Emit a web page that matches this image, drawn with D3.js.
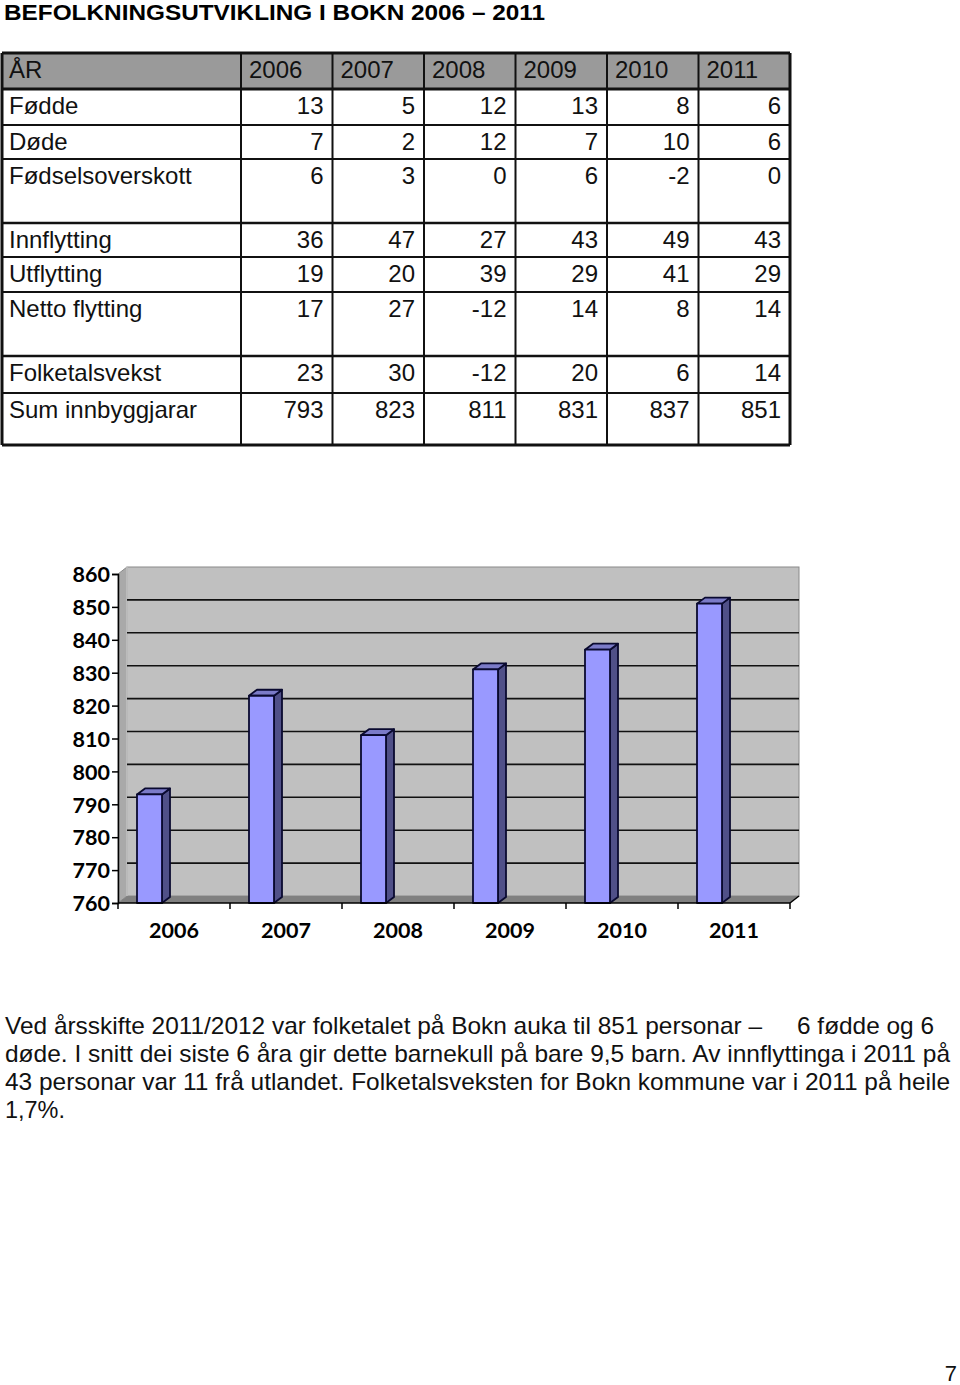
<!DOCTYPE html>
<html><head><meta charset="utf-8">
<script src="https://cdn.jsdelivr.net/npm/d3@7"></script>
<style>html,body{margin:0;padding:0;background:#fff;} svg{display:block;}</style>
</head><body>
<svg id="c" width="960" height="1385"></svg>
<script>
// ---------- data ----------
const years = ["2006","2007","2008","2009","2010","2011"];
const rowLabels = ["Fødde","Døde","Fødselsoverskott","Innflytting","Utflytting","Netto flytting","Folketalsvekst","Sum innbyggjarar"];
const fodde = [13,5,12,13,8,6];
const dode = [7,2,12,7,10,6];
const fodselsoverskott = [6,3,0,6,-2,0];
const innflytting = [36,47,27,43,49,43];
const utflytting = [19,20,39,29,41,29];
const nettoFlytting = [17,27,-12,14,8,14];
const folketalsvekst = [23,30,-12,20,6,14];
const sumInnbyggjarar = [793,823,811,831,837,851];
const yTicks = [760,770,780,790,800,810,820,830,840,850,860];
const titleText = "BEFOLKNINGSUTVIKLING I BOKN 2006 – 2011";
const headerLabel = "ÅR";
const paraLines = [
  "Ved årsskifte 2011/2012 var folketalet på Bokn auka til 851 personar –",
  "6 fødde og 6",
  "døde. I snitt dei siste 6 åra gir dette barnekull på bare 9,5 barn. Av innflyttinga i 2011 på",
  "43 personar var 11 frå utlandet. Folketalsveksten for Bokn kommune var i 2011 på heile",
  "1,7%."
];
const pageNumber = "7";

const tableRows = [fodde,dode,fodselsoverskott,innflytting,utflytting,nettoFlytting,folketalsvekst,sumInnbyggjarar];

// ---------- layout ----------
const svg = d3.select("#c");
svg.append("rect").attr("width",960).attr("height",1385).attr("fill","#fff");
const sans = "'Liberation Sans', Arial, Helvetica, sans-serif";

// title
svg.append("text").attr("x",4).attr("y",20).text(titleText)
  .attr("font-family",sans).attr("font-weight","bold").attr("font-size",22.5)
  .attr("textLength",541).attr("lengthAdjust","spacingAndGlyphs").attr("fill","#000");

// table
const tLeft = 2, tRight = 790, labelColEnd = 241;
const rowEdges = [53, 89, 125, 159, 223, 257, 292, 356, 393, 445];
const colX = d3.scaleBand().domain(years).range([labelColEnd, tRight]);
const tbl = svg.append("g");
tbl.append("rect").attr("x",tLeft).attr("y",rowEdges[0]).attr("width",tRight-tLeft)
  .attr("height",rowEdges[1]-rowEdges[0]).attr("fill","#9a9a9a");
rowEdges.forEach((y,i)=>{
  const thick = (i===0||i===1||i===rowEdges.length-1) ? 3 : (i===7||i===4 ? 2.5 : 2);
  tbl.append("line").attr("x1",tLeft).attr("x2",tRight).attr("y1",y).attr("y2",y)
    .attr("stroke","#111").attr("stroke-width",thick);
});
[tLeft, labelColEnd, ...years.slice(1).map(y=>colX(y)), tRight].forEach((x,i,arr)=>{
  const thick = (i===0||i===arr.length-1) ? 3 : 2;
  tbl.append("line").attr("x1",x).attr("x2",x).attr("y1",rowEdges[0]).attr("y2",rowEdges[rowEdges.length-1])
    .attr("stroke","#111").attr("stroke-width",thick);
});
const fs = 24;
tbl.append("text").attr("x",9).attr("y",rowEdges[0]+25).text(headerLabel)
  .attr("font-family",sans).attr("font-size",fs).attr("fill","#111");
years.forEach(y=>{
  tbl.append("text").attr("x",colX(y)+8).attr("y",rowEdges[0]+25).text(y)
    .attr("font-family",sans).attr("font-size",fs).attr("fill","#111");
});
rowLabels.forEach((lab,i)=>{
  const top = rowEdges[i+1];
  tbl.append("text").attr("x",9).attr("y",top+25).text(lab)
    .attr("font-family",sans).attr("font-size",fs).attr("fill","#111");
  tableRows[i].forEach((v,j)=>{
    tbl.append("text").attr("x",colX(years[j])+colX.bandwidth()-9).attr("y",top+25)
      .attr("text-anchor","end").text(v)
      .attr("font-family",sans).attr("font-size",fs).attr("fill","#111");
  });
});

// ---------- chart ----------
const x = d3.scaleBand().domain(years).range([118, 790]);
const y = d3.scaleLinear().domain([760, 860]).range([903, 574]);
const wdx = 9, wdy = -7;   // wall depth
const bdx = 8, bdy = -6;   // bar depth
const x0 = x.range()[0], x1 = x.range()[1];
const ch = svg.append("g");
const yTop = y(860), yBot = y(760);
ch.append("rect").attr("x",x0+wdx).attr("y",yTop+wdy).attr("width",x1-x0).attr("height",yBot-yTop)
  .attr("fill","#c0c0c0").attr("stroke","#8a8a8a").attr("stroke-width",1);
ch.append("path").attr("d",`M${x0},${yTop}L${x0+wdx},${yTop+wdy}L${x0+wdx},${yBot+wdy}L${x0},${yBot}Z`)
  .attr("fill","#a9a9a9").attr("stroke","#8a8a8a").attr("stroke-width",1);
ch.append("line").attr("x1",x0+wdx).attr("x2",x0+wdx).attr("y1",yTop+wdy).attr("y2",yBot+wdy)
  .attr("stroke","#dcdcdc").attr("stroke-width",1);
ch.append("path").attr("d",`M${x0},${yBot}L${x1},${yBot}L${x1+wdx},${yBot+wdy}L${x0+wdx},${yBot+wdy}Z`)
  .attr("fill","#808080");
yTicks.filter(t=>t>760 && t<860).forEach(t=>{
  ch.append("line").attr("x1",x0+wdx).attr("x2",x1+wdx).attr("y1",y(t)+wdy).attr("y2",y(t)+wdy)
    .attr("stroke","#111").attr("stroke-width",1.6);
});
const barOff = 19, barW = 25;
years.forEach((yr,i)=>{
  const v = sumInnbyggjarar[i];
  const bx = x(yr)+barOff, by = y(v);
  const g = ch.append("g").attr("stroke","#0a0a30").attr("stroke-width",1.8).attr("stroke-linejoin","round");
  g.append("path").attr("d",`M${bx+barW},${by}L${bx+barW+bdx},${by+bdy}L${bx+barW+bdx},${yBot+bdy}L${bx+barW},${yBot}Z`)
    .attr("fill","#505088");
  g.append("path").attr("d",`M${bx},${by}L${bx+bdx},${by+bdy}L${bx+barW+bdx},${by+bdy}L${bx+barW},${by}Z`)
    .attr("fill","#7b7bc8");
  g.append("rect").attr("x",bx).attr("y",by).attr("width",barW).attr("height",yBot-by)
    .attr("fill","#9999ff");
});
const yAxis = ch.append("g").attr("transform",`translate(${x0},0)`)
  .call(d3.axisLeft(y).tickValues(yTicks).tickSize(6).tickPadding(2).tickFormat(d3.format("d")));
yAxis.select(".domain").attr("stroke","#000").attr("stroke-width",1.5);
yAxis.selectAll(".tick line").attr("stroke","#000").attr("stroke-width",1.5);
yAxis.selectAll(".tick text").attr("font-family","Lato, 'Open Sans', sans-serif").attr("font-weight","bold")
  .attr("font-size",21.5).attr("fill","#000").attr("dy","0.36em");
ch.append("line").attr("x1",x0).attr("x2",x1).attr("y1",yBot).attr("y2",yBot).attr("stroke","#000").attr("stroke-width",1.5);
ch.append("line").attr("x1",x1).attr("x2",x1+wdx).attr("y1",yBot).attr("y2",yBot+wdy).attr("stroke","#000").attr("stroke-width",1.5);
[...years.map(yr=>x(yr)), x1].forEach(px=>{
  ch.append("line").attr("x1",px).attr("x2",px).attr("y1",yBot).attr("y2",yBot+6).attr("stroke","#000").attr("stroke-width",1.5);
});
years.forEach(yr=>{
  ch.append("text").attr("x",x(yr)+x.bandwidth()/2).attr("y",938).attr("text-anchor","middle").text(yr)
    .attr("font-family","Lato, 'Open Sans', sans-serif").attr("font-weight","bold").attr("font-size",21.5).attr("fill","#000");
});

// ---------- paragraph ----------
const para = [
  {t:paraLines[0], x:5, y:1034, w:757},
  {t:paraLines[1], x:797, y:1034, w:137},
  {t:paraLines[2], x:5, y:1062, w:945},
  {t:paraLines[3], x:5, y:1090, w:945},
  {t:paraLines[4], x:5, y:1118, w:60}
];
para.forEach(p=>{
  svg.append("text").attr("x",p.x).attr("y",p.y).text(p.t)
    .attr("font-family",sans).attr("font-size",24).attr("fill","#111")
    .attr("textLength",p.w).attr("lengthAdjust","spacingAndGlyphs");
});
svg.append("text").attr("x",957).attr("y",1381).attr("text-anchor","end").text(pageNumber)
  .attr("font-family",sans).attr("font-size",22).attr("fill","#111");
</script>
</body></html>
